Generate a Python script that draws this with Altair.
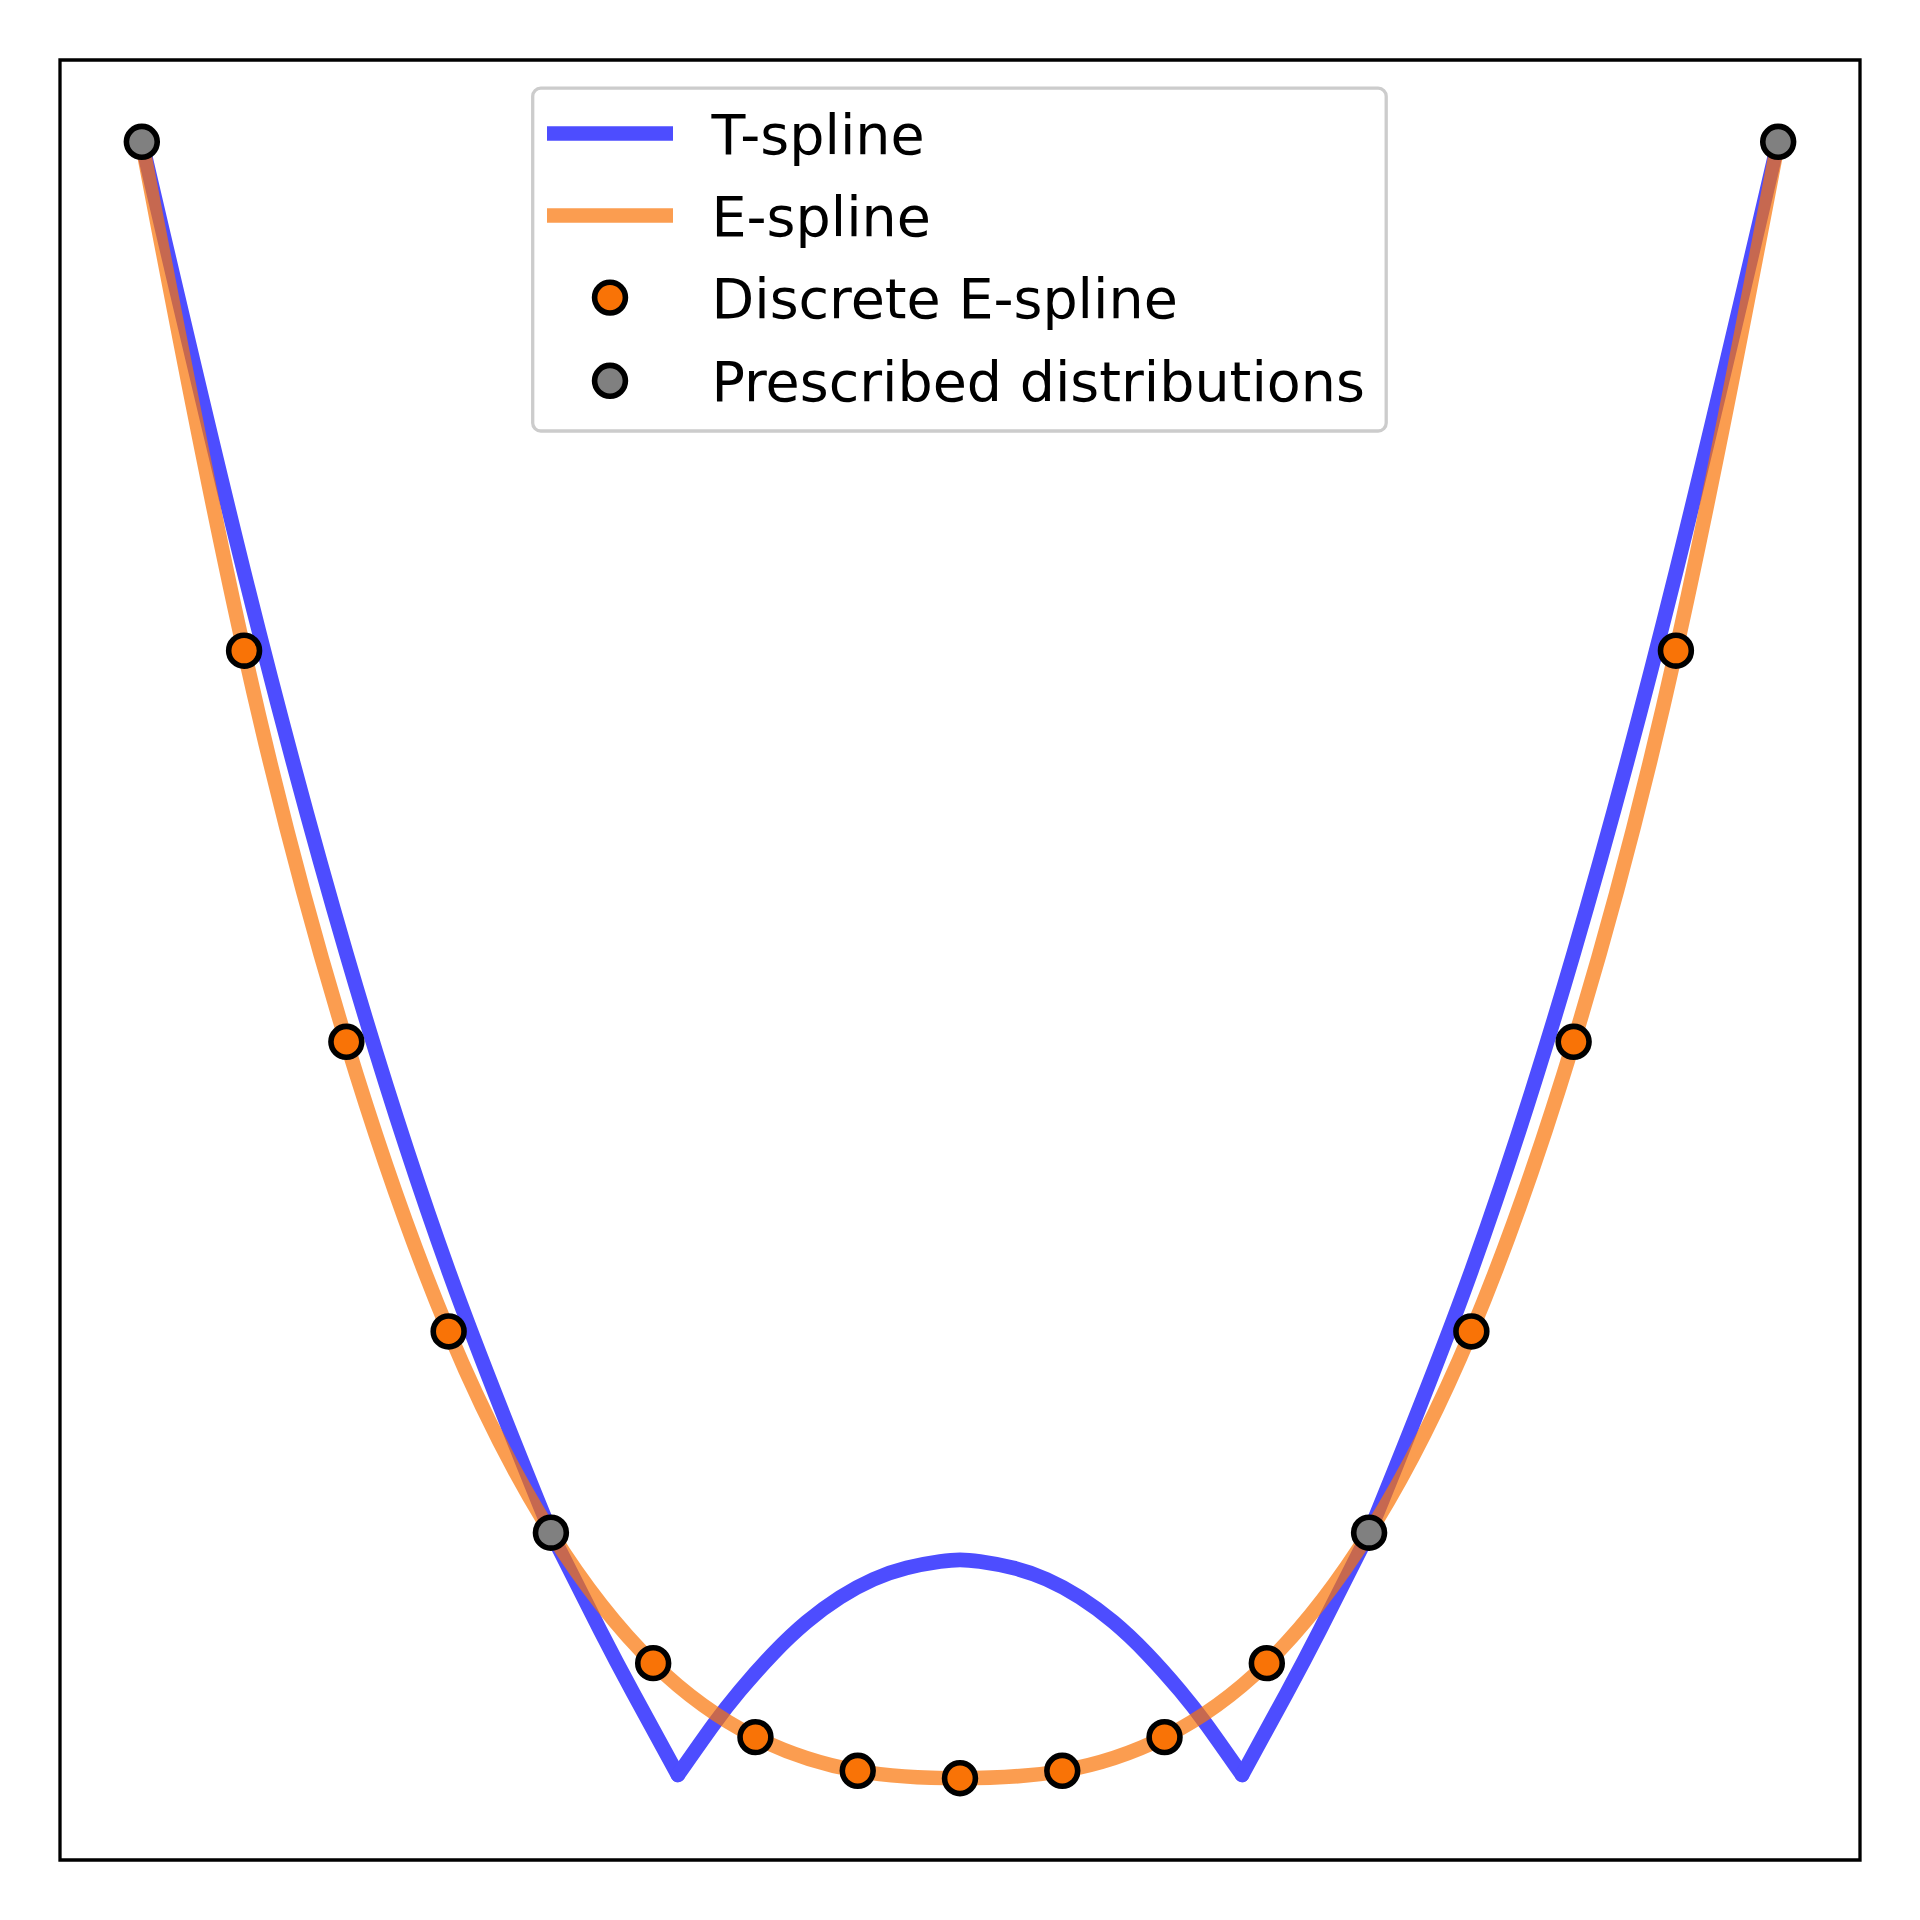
import altair as alt
import pandas as pd

# ---------------- data ----------------
# discrete samples (index 0..16) ; values normalised to 0..1
disc_t = list(range(17))
disc_v = [1.0, 0.689, 0.450, 0.273, 0.150, 0.0703, 0.0251, 0.0045, 0.0,
          0.0045, 0.0251, 0.0703, 0.150, 0.273, 0.450, 0.689, 1.0]
disc_kind = ["Prescribed distributions", "Discrete E-spline", "Discrete E-spline",
             "Discrete E-spline", "Prescribed distributions", "Discrete E-spline",
             "Discrete E-spline", "Discrete E-spline", "Discrete E-spline",
             "Discrete E-spline", "Discrete E-spline", "Discrete E-spline",
             "Prescribed distributions", "Discrete E-spline", "Discrete E-spline",
             "Discrete E-spline", "Prescribed distributions"]

# E-spline curve readings
e_t = list(range(17))
e_v = [1.0, 0.689, 0.450, 0.273, 0.150, 0.0703, 0.0251, 0.0045, 0.0,
       0.0045, 0.0251, 0.0703, 0.150, 0.273, 0.450, 0.689, 1.0]

# T-spline readings, in pieces separated by the prescribed knots and the two cusps
t_a_t = [0, 1, 2, 3, 4]
t_a_v = [1.0, 0.737, 0.504, 0.310, 0.150]
t_b_t = [4, 4.48, 4.806, 5.242]
t_b_v = [0.150, 0.0906, 0.0519, 0.002]
t_c_t = [5.242, 5.588, 5.849, 6.175, 6.501, 6.827, 7.153, 7.479, 7.805, 8.0,
         8.195, 8.521, 8.847, 9.173, 9.499, 9.825, 10.151, 10.412, 10.758]
t_c_v = [0.002, 0.0326, 0.0535, 0.0763, 0.0955, 0.1105, 0.1215, 0.1285, 0.1324, 0.1334,
         0.1324, 0.1285, 0.1215, 0.1105, 0.0955, 0.0763, 0.0535, 0.0326, 0.002]
t_d_t = [10.758, 11.194, 11.52, 12]
t_d_v = [0.002, 0.0519, 0.0906, 0.150]
t_e_t = [12, 13, 14, 15, 16]
t_e_v = [0.150, 0.310, 0.504, 0.737, 1.0]

legend_labels = ["T-spline", "E-spline", "Discrete E-spline", "Prescribed distributions"]

# ---------------- build tables ----------------
disc_df = pd.DataFrame({"t": disc_t, "v": disc_v, "kind": disc_kind})
e_df = pd.DataFrame({"t": e_t, "v": e_v})
t_df = pd.concat([
    pd.DataFrame({"t": t_a_t, "v": t_a_v, "seg": "a"}),
    pd.DataFrame({"t": t_b_t, "v": t_b_v, "seg": "b"}),
    pd.DataFrame({"t": t_c_t, "v": t_c_v, "seg": "c"}),
    pd.DataFrame({"t": t_d_t, "v": t_d_v, "seg": "d"}),
    pd.DataFrame({"t": t_e_t, "v": t_e_v, "seg": "e"}),
], ignore_index=True)

BLUE = "#4d4dff"
ORANGE = "#f97306"
GRAY = "#808080"
LW = 14.6
MS = 950
MSW = 5.6
FONT = "DejaVu Sans"
FS = 55.5

xs = alt.Scale(domain=[-0.8, 16.8], nice=False, zero=False)
ys = alt.Scale(domain=[-0.05, 1.05], nice=False, zero=False)
X = alt.X("t:Q", scale=xs, axis=None)
Y = alt.Y("v:Q", scale=ys, axis=None)

t_line = alt.Chart(t_df).mark_line(
    color=BLUE, strokeWidth=LW, interpolate="natural", strokeCap="round", strokeJoin="round"
).encode(x=X, y=Y, detail="seg:N", order="t:Q")

e_line = alt.Chart(e_df).mark_line(
    color=ORANGE, opacity=0.7, strokeWidth=LW, interpolate="natural", strokeJoin="round"
).encode(x=X, y=Y, order="t:Q")

pts = alt.Chart(disc_df).mark_point(
    filled=True, size=MS, stroke="black", strokeWidth=MSW, opacity=1, strokeOpacity=1, fillOpacity=1
).encode(
    x=X, y=Y,
    fill=alt.Fill("kind:N", scale=alt.Scale(domain=["Discrete E-spline", "Prescribed distributions"],
                                            range=[ORANGE, GRAY]), legend=None),
)

# ---------------- hand-drawn legend (layout positions, pixels in the plot area) ----------------
one = pd.DataFrame({"a": [0]})
box = alt.Chart(one).mark_rect(
    fill="white", fillOpacity=0.8, stroke="#cccccc", strokeWidth=3.3, cornerRadius=8
).encode(x=alt.value(472.7), x2=alt.value(1326.2), y=alt.value(28.2), y2=alt.value(371))

leg_t = alt.Chart(one).mark_rule(color=BLUE, strokeWidth=LW).encode(
    x=alt.value(487), x2=alt.value(613), y=alt.value(73.5))
leg_e = alt.Chart(one).mark_rule(color=ORANGE, opacity=0.7, strokeWidth=LW).encode(
    x=alt.value(487), x2=alt.value(613), y=alt.value(155.5))
leg_d = alt.Chart(one).mark_point(filled=True, size=MS, fill=ORANGE, stroke="black",
                                  strokeWidth=MSW, opacity=1).encode(
    x=alt.value(550), y=alt.value(237.6))
leg_p = alt.Chart(one).mark_point(filled=True, size=MS, fill=GRAY, stroke="black",
                                  strokeWidth=MSW, opacity=1).encode(
    x=alt.value(550), y=alt.value(320.8))

texts = []
for lab, yy in zip(legend_labels, [73.5, 155.5, 237.6, 320.8]):
    texts.append(alt.Chart(one).mark_text(
        text=lab, font=FONT, fontSize=FS, color="black", align="left", baseline="alphabetic"
    ).encode(x=alt.value(651.5), y=alt.value(yy + 0.3645 * FS)))

chart = alt.layer(t_line, e_line, pts, box, leg_t, leg_e, leg_d, leg_p, *texts).properties(
    width=1800, height=1800,
    padding={"left": 52, "top": 52, "right": 8, "bottom": 8},
    autosize=alt.AutoSizeParams(type="none"),
    background="white",
).configure_view(stroke="black", strokeWidth=3.3)

chart.save("out.html", embed_options={"renderer": "svg", "actions": False})
